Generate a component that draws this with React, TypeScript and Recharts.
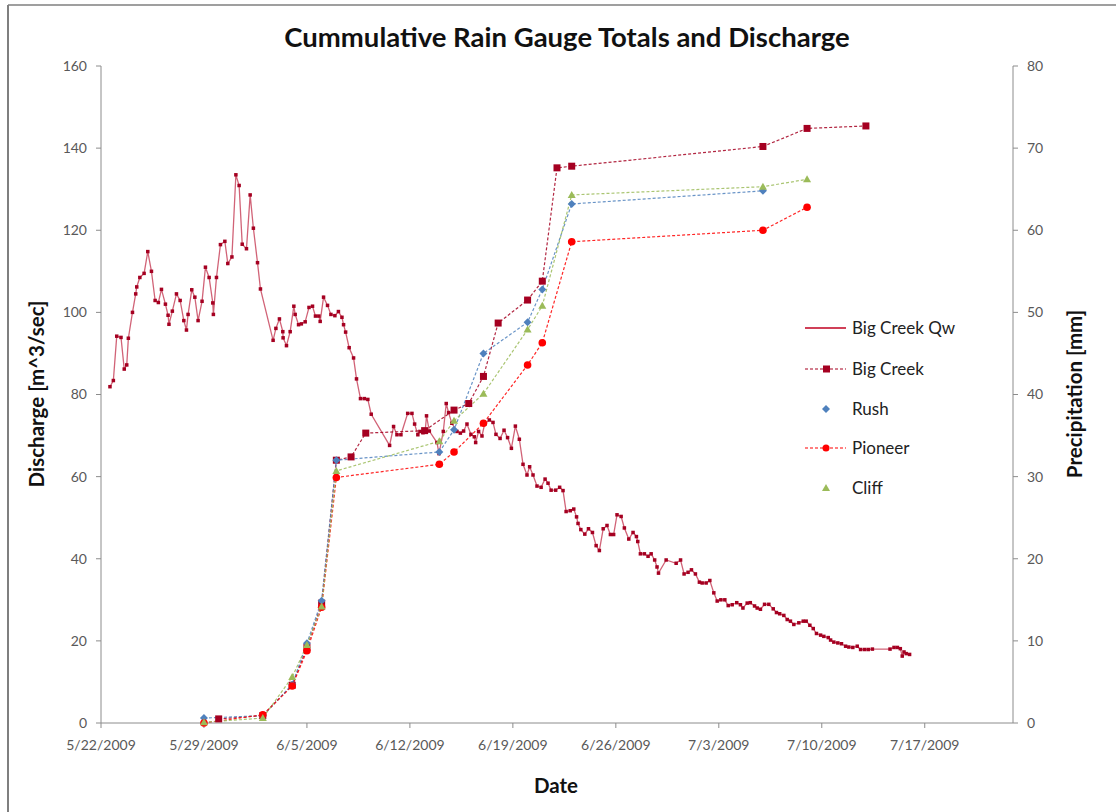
import { ComposedChart, Line, XAxis, YAxis } from "recharts";

// day 0 = 5/22/2009
const START = new Date(2009, 4, 22);
const DATE_TICKS = [0, 7, 14, 21, 28, 35, 42, 49, 56];
const FLOW_TICKS = [0, 20, 40, 60, 80, 100, 120, 140, 160];
const RAIN_TICKS = [0, 10, 20, 30, 40, 50, 60, 70, 80];

// Big Creek discharge, m^3/sec
const QW_DAYS = [
  0.61, 0.84, 1.07, 1.36, 1.58, 1.75, 1.86, 2.14, 2.36, 2.43, 2.64, 2.93, 3.18, 3.43, 3.68, 3.9,
  4.11, 4.38, 4.56, 4.62, 4.85, 5.13, 5.38, 5.63, 5.81, 5.92, 6.17, 6.38, 6.6, 6.87, 7.1, 7.35,
  7.6, 7.64, 7.85, 8.12, 8.42, 8.62, 8.9, 9.17, 9.39, 9.6, 9.89, 10.14, 10.36, 10.64, 10.84,
  11.7, 11.89, 12.13, 12.36, 12.38, 12.61, 12.86, 13.11, 13.2, 13.43, 13.62, 13.88, 14.14, 14.38,
  14.58, 14.81, 14.9, 15.13, 15.4, 15.63, 15.9, 16.14, 16.38, 16.49, 16.63, 16.87, 17.17, 17.37,
  17.64, 17.9, 18.14, 18.37, 19.62, 19.89, 20.12, 20.39, 20.85, 21.14, 21.32, 21.54, 21.68, 21.89,
  22.04, 22.13, 22.32, 22.84, 22.98, 23.27, 23.47, 23.63, 23.85, 24.2, 24.43, 24.65, 24.88, 25.15,
  25.38, 25.47, 25.67, 25.9, 26.08, 26.4, 26.65, 26.85, 27.13, 27.4, 27.64, 27.9, 28.17, 28.44,
  28.69, 28.96, 29.14, 29.37, 29.64, 29.92, 30.19, 30.39, 30.6, 30.91, 31.18, 31.41, 31.62, 31.9,
  32.14, 32.33, 32.43, 32.62, 32.89, 33.14, 33.41, 33.66, 33.88, 34.14, 34.4, 34.63, 34.85, 35.08,
  35.36, 35.58, 35.88, 36.17, 36.4, 36.49, 36.67, 36.94, 37.19, 37.4, 37.64, 37.8, 37.9, 38.42,
  39.1, 39.4, 39.64, 39.91, 40.14, 40.41, 40.68, 40.87, 41.14, 41.39, 41.66, 41.89, 42.14, 42.41,
  42.64, 42.91, 43.22, 43.47, 43.64, 43.93, 44.14, 44.43, 44.61, 44.83, 45.11, 45.4, 45.7, 45.92,
  46.14, 46.42, 46.65, 46.87, 47.1, 47.44, 47.74, 47.94, 48.19, 48.42, 48.64, 48.92, 49.14, 49.44,
  49.6, 49.82, 50.09, 50.34, 50.62, 50.84, 51.11, 51.41, 51.64, 51.91, 52.16, 52.44, 53.64, 53.91,
  54.14, 54.34, 54.47, 54.59, 54.74, 54.97,
];
const QW_FLOW = [
  81.9, 83.4, 94.2, 93.9, 86.2, 87.2, 93.7, 100.0, 104.5, 106.2, 108.5, 109.5, 114.8, 110.0, 102.9, 102.4,
  105.6, 102.0, 99.3, 97.1, 100.3, 104.5, 102.9, 98.0, 95.7, 99.5, 105.5, 103.7, 98.0, 102.7, 111.0, 108.5,
  102.3, 99.5, 108.5, 116.5, 117.3, 111.9, 113.5, 133.5, 130.9, 116.6, 115.5, 128.6, 120.5, 112.1, 105.7,
  93.2, 96.1, 98.4, 95.3, 93.8, 91.9, 95.3, 101.5, 99.5, 97.0, 97.2, 97.7, 101.2, 101.5,
  99.1, 99.1, 97.8, 103.7, 101.7, 99.5, 99.2, 100.2, 98.8, 97.0, 95.2, 91.4, 88.9, 83.8,
  79.0, 79.0, 78.8, 75.2, 67.6, 72.2, 70.2, 70.2, 75.4, 75.4, 72.8, 70.2, 71.0, 70.7,
  71.1, 74.8, 71.1, 68.3, 65.6, 71.0, 77.8, 75.6, 73.0, 71.0, 70.6, 71.1, 72.8, 70.3,
  69.7, 68.3, 71.0, 69.9, 72.8, 73.8, 73.2, 70.3, 69.3, 71.3, 69.5, 66.9, 72.3, 69.1,
  63.0, 60.4, 62.4, 60.4, 57.7, 57.4, 59.4, 58.4, 56.7, 56.7, 57.4, 56.6, 51.5, 51.7,
  52.1, 50.2, 48.6, 47.1, 46.0, 47.3, 46.4, 43.2, 42.0, 47.3, 48.1, 45.9, 45.9, 50.7,
  50.3, 47.5, 44.8, 46.4, 45.4, 44.2, 41.2, 41.2, 40.6, 41.2, 39.7, 38.0, 36.5, 39.7,
  38.9, 39.7, 36.3, 36.7, 37.3, 36.3, 34.3, 34.1, 34.1, 34.7, 31.7, 29.7, 30.0, 30.0,
  28.6, 28.8, 29.3, 28.8, 28.0, 29.2, 29.3, 28.5, 28.0, 27.7, 28.9, 28.9, 27.8, 26.9,
  26.6, 26.2, 25.2, 24.8, 24.0, 24.4, 24.8, 24.8, 23.8, 23.0, 21.8, 21.4, 21.1, 20.8,
  20.2, 19.7, 19.5, 19.3, 18.7, 18.5, 18.4, 18.7, 17.9, 17.9, 17.9, 18.0, 18.0, 18.4,
  18.4, 18.1, 16.3, 17.3, 16.9, 16.7,
];

// cumulative rain gauge totals, mm
const BIG_CREEK_DAYS = [8, 11, 13, 14, 15, 16, 17, 18, 22, 24, 25, 26, 27, 29, 30, 31, 32, 45, 48, 52];
const BIG_CREEK_MM = [0.5, 0.9, 4.6, 9.2, 14.6, 32.0, 32.4, 35.3, 35.6, 38.1, 38.9, 42.2, 48.7, 51.5, 53.8, 67.6, 67.8, 70.2, 72.4, 72.7];
const RUSH_DAYS = [7, 11, 13, 14, 15, 16, 23, 24, 26, 29, 30, 32, 45];
const RUSH_MM = [0.6, 0.9, 4.7, 9.7, 14.9, 32.0, 33.0, 35.7, 45.0, 48.8, 52.8, 63.2, 64.8];
const PIONEER_DAYS = [7, 11, 13, 14, 15, 16, 23, 24, 26, 29, 30, 32, 45, 48];
const PIONEER_MM = [0.0, 1.0, 4.5, 8.8, 14.1, 29.9, 31.5, 33.0, 36.5, 43.6, 46.3, 58.6, 60.0, 62.8];
const CLIFF_DAYS = [7, 11, 13, 14, 15, 16, 23, 24, 26, 29, 30, 32, 45, 48];
const CLIFF_MM = [0.1, 0.6, 5.6, 9.5, 14.2, 30.7, 34.3, 36.8, 40.1, 47.9, 50.8, 64.3, 65.3, 66.2];

const zip = (days: number[], vals: number[]) => days.map((day, i) => ({ day, v: vals[i] }));

const qwData = zip(QW_DAYS, QW_FLOW);
const bigCreekData = zip(BIG_CREEK_DAYS, BIG_CREEK_MM);
const rushData = zip(RUSH_DAYS, RUSH_MM);
const pioneerData = zip(PIONEER_DAYS, PIONEER_MM);
const cliffData = zip(CLIFF_DAYS, CLIFF_MM);

const FONT = "Lato, 'Open Sans', sans-serif";
const AXIS = "#8c8c8c";
const TICK = { fontSize: 14, fill: "#595959", fontFamily: FONT };

const QW_RED = "#B8102E";
const BIG_RED = "#A50021";
const RUSH_BLUE = "#4F81BD";
const PIONEER_RED = "#FF0000";
const CLIFF_GREEN = "#9BBB59";

const fmtDate = (d: number) => {
  const t = new Date(START.getFullYear(), START.getMonth(), START.getDate() + d);
  return `${t.getMonth() + 1}/${t.getDate()}/${t.getFullYear()}`;
};

// marker shapes
const square = (s: number, fill: string) => (p: any) => (
  <rect key={`sq-${s}-${p.index}`} x={p.cx - s / 2} y={p.cy - s / 2} width={s} height={s} fill={fill} />
);
const diamond = (s: number, fill: string) => (p: any) => (
  <path
    key={`dm-${p.index}`}
    d={`M${p.cx},${p.cy - s} L${p.cx + s},${p.cy} L${p.cx},${p.cy + s} L${p.cx - s},${p.cy} Z`}
    fill={fill}
  />
);
const circle = (r: number, fill: string) => (p: any) => (
  <circle key={`ci-${p.index}`} cx={p.cx} cy={p.cy} r={r} fill={fill} />
);
const triangle = (s: number, fill: string) => (p: any) => (
  <path
    key={`tr-${p.index}`}
    d={`M${p.cx},${p.cy - s} L${p.cx + s},${p.cy + s * 0.75} L${p.cx - s},${p.cy + s * 0.75} Z`}
    fill={fill}
  />
);

const legendItems = [
  { name: "Big Creek Qw", y: 328 },
  { name: "Big Creek", y: 369 },
  { name: "Rush", y: 409 },
  { name: "Pioneer", y: 448 },
  { name: "Cliff", y: 488 },
];

function Overlay() {
  return (
    <svg
      width={1116}
      height={812}
      style={{ position: "absolute", left: 0, top: 0, pointerEvents: "none" }}
    >
      <line x1={8} y1={5} x2={8} y2={812} stroke="#7f7f7f" strokeWidth={2} />
      <line x1={8} y1={5} x2={1116} y2={5} stroke="#7f7f7f" strokeWidth={1.5} />
      <text x={567} y={47} textAnchor="middle" fontFamily={FONT} fontWeight={700} fontSize={27.5} fill="#111">
        Cummulative Rain Gauge Totals and Discharge
      </text>
      <text
        transform="translate(44,394) rotate(-90)"
        textAnchor="middle"
        fontFamily={FONT}
        fontWeight={700}
        fontSize={20.5}
        fill="#111"
      >
        Discharge [m^3/sec]
      </text>
      <text
        transform="translate(1082,394) rotate(-90)"
        textAnchor="middle"
        fontFamily={FONT}
        fontWeight={700}
        fontSize={20.5}
        fill="#111"
      >
        Precipitation [mm]
      </text>
      <text x={556} y={793} textAnchor="middle" fontFamily={FONT} fontWeight={700} fontSize={20.5} fill="#111">
        Date
      </text>

      {/* legend */}
      <line x1={805} x2={846} y1={328} y2={328} stroke="#C00020" strokeWidth={1.5} />
      <line x1={805} x2={846} y1={369} y2={369} stroke={BIG_RED} strokeWidth={1.2} strokeDasharray="3 2" />
      <rect x={823} y={365.5} width={7} height={7} fill={BIG_RED} />
      <path d="M826,405 L830,409 L826,413 L822,409 Z" fill={RUSH_BLUE} />
      <line x1={805} x2={846} y1={448} y2={448} stroke={PIONEER_RED} strokeWidth={1.2} strokeDasharray="3 2" />
      <circle cx={826} cy={448} r={3.5} fill={PIONEER_RED} />
      <path d="M826,484 L830,491 L822,491 Z" fill={CLIFF_GREEN} />
      {legendItems.map((it) => (
        <text key={it.name} x={852} y={it.y + 6} fontFamily={FONT} fontSize={17} fill="#222">
          {it.name}
        </text>
      ))}
    </svg>
  );
}

export default function App() {
  return (
    <div style={{ position: "absolute", left: 0, top: 0, width: 1116, height: 812, background: "#fff" }}>
      <ComposedChart width={1116} height={812} margin={{ top: 66, right: 43, bottom: 59, left: 41 }}>
        <XAxis
          type="number"
          dataKey="day"
          domain={[0, 62]}
          ticks={DATE_TICKS}
          tickFormatter={fmtDate}
          allowDataOverflow
          height={30}
          tick={TICK}
          tickSize={5}
          tickMargin={12}
          stroke={AXIS}
        />
        <YAxis
          yAxisId="left"
          domain={[0, 160]}
          ticks={FLOW_TICKS}
          width={60}
          tick={TICK}
          tickSize={5}
          tickMargin={9}
          stroke={AXIS}
        />
        <YAxis
          yAxisId="right"
          orientation="right"
          domain={[0, 80]}
          ticks={RAIN_TICKS}
          width={60}
          tick={TICK}
          tickSize={5}
          tickMargin={9}
          stroke={AXIS}
        />
        <Line
          yAxisId="left"
          data={qwData}
          dataKey="v"
          type="linear"
          stroke={QW_RED}
          strokeOpacity={0.65}
          strokeWidth={1.3}
          dot={square(3.5, BIG_RED)}
          activeDot={false}
          isAnimationActive={false}
        />
        <Line
          yAxisId="right"
          data={bigCreekData}
          dataKey="v"
          type="linear"
          stroke={BIG_RED}
          strokeWidth={1.2}
          strokeDasharray="3 2"
          strokeOpacity={0.85}
          dot={square(7, BIG_RED)}
          activeDot={false}
          isAnimationActive={false}
        />
        <Line
          yAxisId="right"
          data={rushData}
          dataKey="v"
          type="linear"
          stroke={RUSH_BLUE}
          strokeWidth={1.2}
          strokeDasharray="3 2"
          strokeOpacity={0.85}
          dot={diamond(4, RUSH_BLUE)}
          activeDot={false}
          isAnimationActive={false}
        />
        <Line
          yAxisId="right"
          data={pioneerData}
          dataKey="v"
          type="linear"
          stroke={PIONEER_RED}
          strokeWidth={1.2}
          strokeDasharray="3 2"
          strokeOpacity={0.85}
          dot={circle(3.8, PIONEER_RED)}
          activeDot={false}
          isAnimationActive={false}
        />
        <Line
          yAxisId="right"
          data={cliffData}
          dataKey="v"
          type="linear"
          stroke={CLIFF_GREEN}
          strokeWidth={1.2}
          strokeDasharray="3 2"
          strokeOpacity={0.85}
          dot={triangle(4, CLIFF_GREEN)}
          activeDot={false}
          isAnimationActive={false}
        />
      </ComposedChart>
      <Overlay />
    </div>
  );
}
